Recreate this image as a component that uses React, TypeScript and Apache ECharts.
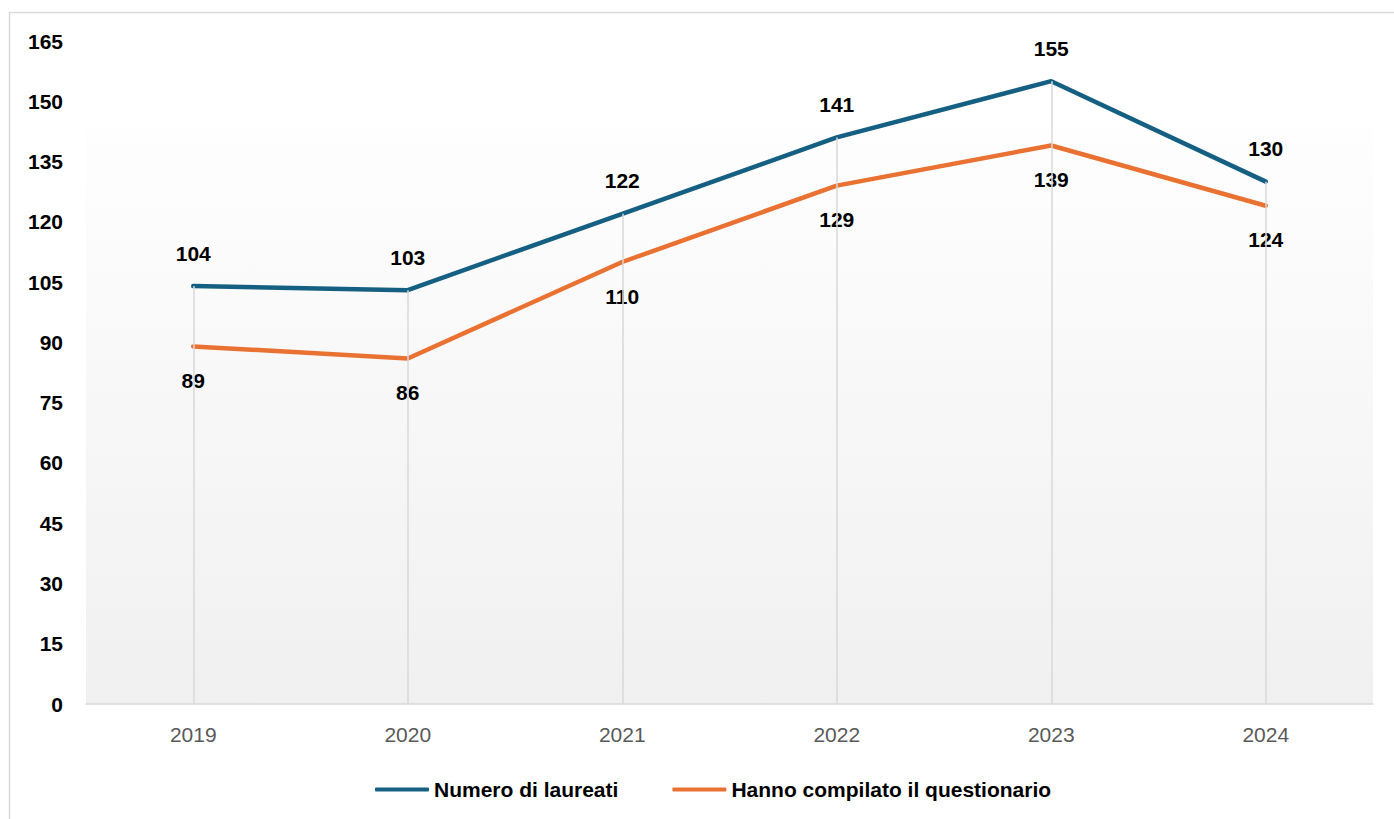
import React, { useEffect, useRef } from "react";
import * as echarts from "echarts";

const categories = ["2019", "2020", "2021", "2022", "2023", "2024"];
const laureati = [104, 103, 122, 141, 155, 130];
const compilato = [89, 86, 110, 129, 139, 124];
const yTicks = { min: 0, max: 165, interval: 15 };
const seriesNames = ["Numero di laureati", "Hanno compilato il questionario"];

const BLUE = "#156082";
const ORANGE = "#E97132";
const FONT = "'Liberation Sans', Arial, sans-serif";

export default function App() {
  const ref = useRef<HTMLDivElement>(null);
  useEffect(() => {
    if (!ref.current) return;
    const chart = echarts.init(ref.current, undefined, { renderer: "svg" });
    const tops = categories.map((_, i) => Math.max(laureati[i], compilato[i]));
    chart.setOption({
      animation: false,
      backgroundColor: "#ffffff",
      textStyle: { fontFamily: FONT },
      graphic: [
        {
          type: "rect",
          z: 0,
          silent: true,
          shape: { x: 9.5, y: 12.5, width: 1420, height: 840 },
          style: { fill: "none", stroke: "#d9d9d9", lineWidth: 1.5 },
        },
        {
          type: "rect",
          z: 0,
          silent: true,
          shape: { x: 86, y: 127, width: 1287, height: 577 },
          style: {
            fill: new echarts.graphic.LinearGradient(0, 0, 0, 1, [
              { offset: 0, color: "#fefefe" },
              { offset: 1, color: "#f0f0f0" },
            ]),
          },
        },
      ],
      grid: { left: 86, right: 21, top: 41, bottom: 115, containLabel: false },
      legend: {
        data: seriesNames,
        left: 370,
        top: 774,
        icon: "roundRect",
        itemWidth: 54,
        itemHeight: 4,
        itemGap: 54,
        textStyle: {
          fontFamily: "'Liberation Sans Narrow', 'Arial Narrow', 'Liberation Sans', sans-serif",
          fontWeight: "bold",
          fontSize: 21,
          color: "#000000",
        },
      },
      xAxis: {
        type: "category",
        data: categories,
        boundaryGap: true,
        axisLine: { show: true, lineStyle: { color: "#d9d9d9", width: 1.5 } },
        axisTick: { show: false },
        splitLine: { show: false },
        axisLabel: { color: "#595959", fontSize: 21, margin: 20, fontFamily: FONT },
      },
      yAxis: {
        type: "value",
        min: yTicks.min,
        max: yTicks.max,
        interval: yTicks.interval,
        axisLine: { show: false },
        axisTick: { show: false },
        splitLine: { show: false },
        axisLabel: { color: "#000000", fontSize: 21, fontWeight: "bold", margin: 23, fontFamily: FONT },
      },
      series: [
        {
          name: "drop",
          type: "line",
          data: tops,
          z: 1,
          silent: true,
          symbol: "none",
          lineStyle: { opacity: 0 },
          markLine: {
            silent: true,
            symbol: ["none", "none"],
            label: { show: false },
            lineStyle: { color: "#d9d9d9", width: 1.5, type: "solid" },
            data: categories.map((_, i) => [
              { coord: [i, tops[i]] },
              { coord: [i, 0] },
            ]),
          },
        },
        {
          name: seriesNames[0],
          type: "line",
          data: laureati,
          z: 3,
          symbol: "circle",
          symbolSize: 1,
          itemStyle: { color: BLUE },
          lineStyle: { color: BLUE, width: 4.5, cap: "round", join: "round" },
          label: {
            show: true,
            position: "top",
            distance: 22,
            color: "#000000",
            fontSize: 21,
            fontWeight: "bold",
            fontFamily: FONT,
          },
        },
        {
          name: seriesNames[1],
          type: "line",
          data: compilato,
          z: 3,
          symbol: "circle",
          symbolSize: 1,
          itemStyle: { color: ORANGE },
          lineStyle: { color: ORANGE, width: 4.5, cap: "round", join: "round" },
          label: {
            show: true,
            position: "bottom",
            distance: 23,
            color: "#000000",
            fontSize: 21,
            fontWeight: "bold",
            fontFamily: FONT,
          },
        },
      ],
    });
    return () => chart.dispose();
  }, []);
  return (
    <div
      ref={ref}
      style={{ position: "fixed", left: 0, top: 0, width: 1394, height: 819 }}
    />
  );
}
